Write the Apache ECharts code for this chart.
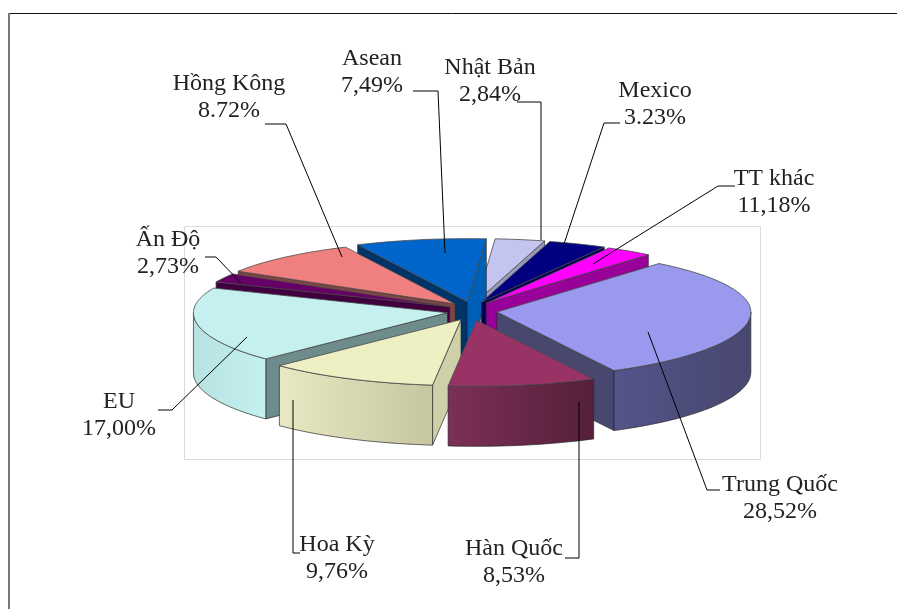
<!DOCTYPE html>
<html>
<head>
<meta charset="utf-8">
<style>
  html, body { margin: 0; padding: 0; background: #fff; }
  #chart { width: 897px; height: 609px; }
</style>
<script src="https://cdn.jsdelivr.net/npm/echarts@6/dist/echarts.min.js"></script>
</head>
<body>
<div id="chart"></div>
<script>
const categories = ['Trung Quốc', 'Hàn Quốc', 'Hoa Kỳ', 'EU', 'Ấn Độ', 'Hồng Kông', 'Asean', 'Nhật Bản', 'Mexico', 'TT khác']
// printed labels, kept as text: the source mixes , and . and they don't match the wedges
const percentLabels = ['28,52%', '8,53%', '9,76%', '17,00%', '2,73%', '8.72%', '7,49%', '2,84%', '3.23%', '11,18%']
// wedge sizes as measured on the picture
const shares = [31.56, 9.48, 10.97, 18.86, 2.3, 9.26, 8.35, 3.17, 3.72, 3.02]

// styles
const topColors = ['#9999ee', '#993366', '#efefc4', '#c4f0f0', '#660066', '#f08080', '#0066cc', '#c4c4f0', '#000080', '#ff00ff']
const wallLeft = ['#54548a', '#7c2f57', '#e8e8c2', '#b8e2e2', '#400040', '#8a4a4a', '#0060b8', '#9a9ab8', '#000060', '#990099']
const wallRight = ['#47476f', '#55203b', '#c6c6a2', '#c4f0f0', '#400040', '#8a4a4a', '#0060b8', '#9a9ab8', '#000060', '#990099']
const startCutColors = ['#47476f', '#7c2f57', '#cfcfa8', '#6e8c8c', '#400040', '#7e4545', '#003366', '#9a9ab8', '#000050', '#990099']
const endCutColors = ['#47476f', '#5a2240', '#cfcfa8', '#6e8c8c', '#400040', '#7e4545', '#0060b8', '#9a9ab8', '#000050', '#990099']

// pie layout, the back of the ellipse is a bit flatter (perspective)
const pie = { cx: 472, cy: 311, rx: 254, ryFront: 66, ryBack: 63, depth: 60, explode: 25, explodeY: 0.38, startDeg: -50.3 }

// label layout: text centre, then leader line from the text to the wedge
const labelCentres = [[780, 498], [514, 562], [337, 558], [119, 415], [168, 253], [229, 97], [372, 72], [490, 81], [655, 104], [774, 192]]
const leaderPaths = [
  [[720, 490], [707, 490], [648, 332]],
  [[565, 558], [579, 558], [579, 402]],
  [[300, 553], [293, 553], [293, 400]],
  [[158, 410], [172, 410], [247, 337]],
  [[205, 257], [216, 257], [241, 283]],
  [[265, 124], [286, 124], [342, 257]],
  [[413, 91], [438, 91], [445, 253]],
  [[517, 102], [541, 102], [541, 240]],
  [[620, 123], [604, 123], [563, 247]],
  [[735, 186], [718, 186], [593, 264]]
]

const total = shares.reduce((a, b) => a + b, 0)
const rad = d => d * Math.PI / 180

// start / end angle of each wedge, clockwise on screen
let running = pie.startDeg
const wedges = shares.map((s, i) => {
  const start = running
  const end = start + s / total * 360
  running = end
  const mid = (start + end) / 2
  return {
    i, start, end, mid,
    ax: pie.cx + pie.explode * Math.cos(rad(mid)),
    ay: pie.cy + pie.explode * pie.explodeY * Math.sin(rad(mid))
  }
})
// far wedges get painted first
const paintOrder = wedges.slice().sort((a, b) => Math.sin(rad(a.mid)) - Math.sin(rad(b.mid)))

function rimPoint(w, deg, drop) {
  const s = Math.sin(rad(deg))
  return [w.ax + pie.rx * Math.cos(rad(deg)), w.ay + (s < 0 ? pie.ryBack : pie.ryFront) * s + (drop || 0)]
}

function arcPoints(w, from, to, drop) {
  const pts = []
  const steps = Math.max(2, Math.ceil((to - from) / 2))
  for (let k = 0; k <= steps; k++) pts.push(rimPoint(w, from + (to - from) * k / steps, drop))
  return pts
}

function poly(points, fill, stroke, lineWidth) {
  return {
    type: 'polygon', shape: { points },
    style: { fill, stroke: stroke || '#2a2a2a', lineWidth: lineWidth || 0.7, lineJoin: 'round' }
  }
}

function cutWall(w, deg, color) {
  const p = rimPoint(w, deg)
  return poly([[w.ax, w.ay], p, [p[0], p[1] + pie.depth], [w.ax, w.ay + pie.depth]], color)
}

function renderWedge(params, api) {
  const w = paintOrder[api.value(0)]
  const children = []
  // the two cut faces, only when they turn towards the viewer
  if (Math.cos(rad(w.start)) < 0) children.push(cutWall(w, w.start, startCutColors[w.i]))
  if (Math.cos(rad(w.end)) > 0) children.push(cutWall(w, w.end, endCutColors[w.i]))
  // outer wall, front half of the ellipse only
  const from = Math.max(w.start, 0)
  const to = Math.min(w.end, 180)
  if (to > from) {
    const upper = arcPoints(w, from, to, 0)
    const lower = arcPoints(w, from, to, pie.depth).reverse()
    const pts = upper.concat(lower)
    const xs = pts.map(p => p[0])
    const x0 = Math.min(...xs)
    const x1 = Math.max(...xs)
    children.push(poly(pts, new echarts.graphic.LinearGradient(x0, 0, x1, 0, [
      { offset: 0, color: wallLeft[w.i] },
      { offset: 1, color: wallRight[w.i] }
    ], true)))
  }
  // top face
  children.push(poly([[w.ax, w.ay]].concat(arcPoints(w, w.start, w.end, 0)), topColors[w.i], '#4a4a4a', 0.8))
  return { type: 'group', children }
}

function renderLabel(params, api) {
  const i = api.value(0)
  const c = labelCentres[i]
  return {
    type: 'group',
    children: [
      { type: 'polyline', shape: { points: leaderPaths[i] }, style: { fill: 'none', stroke: '#000', lineWidth: 1 } },
      {
        type: 'text', x: c[0], y: c[1],
        style: {
          text: categories[i] + '\n' + percentLabels[i],
          fontFamily: '"Liberation Serif", "Times New Roman", serif', fontSize: 24, lineHeight: 27,
          fill: '#222', align: 'center', verticalAlign: 'middle'
        }
      }
    ]
  }
}

const chart = echarts.init(document.getElementById('chart'))
chart.setOption({
  animation: false,
  backgroundColor: '#fff',
  graphic: [
    // outer chart frame, cut off on the right and bottom like the screenshot
    { type: 'line', shape: { x1: 8, y1: 13.5, x2: 897, y2: 13.5 }, style: { stroke: '#111', lineWidth: 1 }, z: 1 },
    { type: 'line', shape: { x1: 9, y1: 13, x2: 9, y2: 609 }, style: { stroke: '#777', lineWidth: 2 }, z: 1 },
    // plot area
    { type: 'rect', shape: { x: 184.5, y: 226.5, width: 576, height: 233 }, style: { fill: 'none', stroke: '#dcdcdc', lineWidth: 1 }, z: 1 }
  ],
  series: [
    {
      type: 'custom', coordinateSystem: 'none', silent: true, z: 2,
      renderItem: renderWedge,
      data: paintOrder.map((w, k) => [k])
    },
    {
      type: 'custom', coordinateSystem: 'none', silent: true, z: 3,
      renderItem: renderLabel,
      data: categories.map((c, i) => [i])
    }
  ]
})
</script>
</body>
</html>
